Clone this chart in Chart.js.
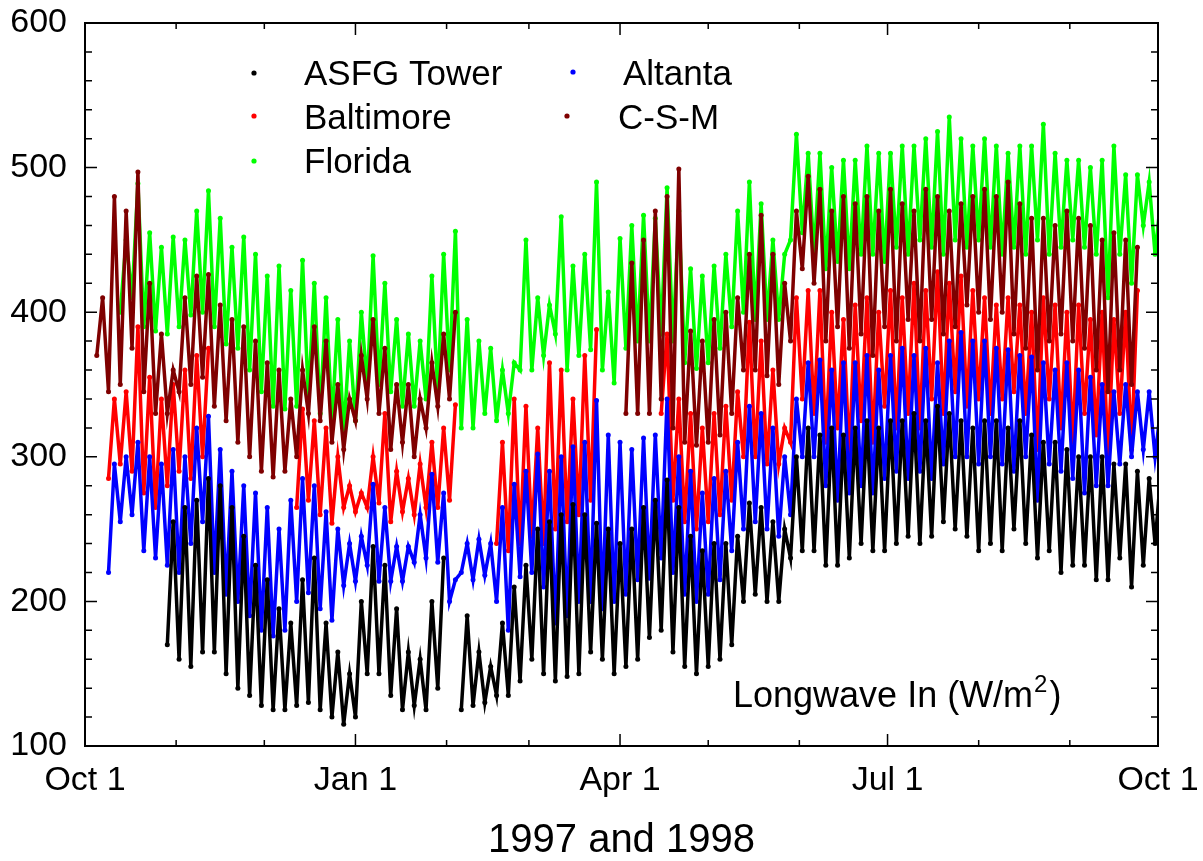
<!DOCTYPE html>
<html>
<head>
<meta charset="utf-8">
<script src="https://cdn.jsdelivr.net/npm/chart.js@4.4.0/dist/chart.umd.min.js"></script>
<style>
  html, body { margin: 0; padding: 0; background: #fff; }
  #wrap { width: 1203px; height: 861px; position: relative; }
</style>
</head>
<body>
<div id="wrap"><canvas id="lw" width="1203" height="861"></canvas></div>
<script>
// --- Data (days after Oct 1 1997, low / high reading of each 4-day window, W/m2) ---
const days = [0,4,8,12,16,20,24,28,32,36,40,44,48,52,56,60,64,68,72,76,80,84,88,92,96,100,
  104,108,112,116,120,124,128,132,136,140,144,148,152,156,160,164,168,172,176,180,184,188,192,196,
  200,204,208,212,216,220,224,228,232,236,240,244,248,252,256,260,264,268,272,276,280,284,288,292,
  296,300,304,308,312,316,320,324,328,332,336,340,344,348,352,356,360,364];

const asfgLow = [null,null,null,null,null,null,null,170,160,155,165,165,150,140,135,128,125,125,128,130,
  125,120,115,120,150,150,135,125,128,125,140,null,125,128,130,135,135,145,160,150,145,148,150,165,160,150,
  155,160,175,180,165,155,150,155,160,170,200,205,200,200,230,235,235,225,225,230,240,235,235,240,245,240,
  245,255,250,245,235,240,235,250,240,230,235,220,225,225,215,215,230,210,225,240];
const asfgHigh = [null,null,null,null,null,null,null,255,265,270,285,280,265,245,225,215,195,185,215,230,
  185,165,150,200,238,225,195,165,160,200,230,null,190,165,155,185,210,225,250,255,260,267,260,254,250,240,
  250,265,270,284,265,245,235,240,240,245,268,265,255,250,300,320,315,320,315,320,325,320,325,325,330,325,
  335,330,325,320,325,325,320,325,315,310,310,305,300,300,300,295,295,290,285,290];

const atlLow = [null,null,220,255,260,235,230,225,220,240,255,220,205,200,190,180,176,180,200,206,
  195,187,211,214,225,214,214,214,227,230,227,200,220,215,218,200,180,217,220,210,185,190,200,200,195,200,
  205,215,216,230,220,205,200,205,215,235,250,255,250,245,260,300,300,280,270,275,280,275,285,290,285,290,
  285,295,300,300,295,300,295,290,300,270,295,290,285,275,280,280,295,300,305,300];
const atlHigh = [null,null,295,300,310,300,295,305,300,320,328,305,290,280,275,265,250,270,285,280,
  262,250,240,245,281,265,238,238,260,288,275,215,240,243,240,265,281,290,302,290,300,307,310,339,315,310,
  305,313,315,340,300,290,275,285,290,310,335,330,320,300,340,365,367,360,365,365,370,360,370,375,370,375,
  365,380,386,380,380,375,374,370,369,365,360,365,360,355,350,345,350,345,345,335];

const baltLow = [null,null,285,295,290,275,265,280,290,285,300,null,null,null,null,null,null,null,265,270,
  260,254,265,262,265,268,255,262,260,265,265,270,null,null,null,240,235,240,245,240,250,255,260,270,null,null,
  null,null,null,330,270,255,250,255,260,270,300,300,295,295,310,340,330,310,320,300,325,310,335,320,330,320,
  340,330,345,335,340,330,340,345,330,305,340,320,310,330,315,300,330,305,null,null];
const baltHigh = [null,null,340,345,390,355,340,350,360,370,375,null,null,null,null,null,null,null,333,325,
  320,300,280,275,300,330,290,285,295,310,320,336,null,null,null,310,340,335,320,365,360,340,370,388,null,null,
  null,null,null,385,340,330,320,330,335,345,393,380,360,320,410,415,415,400,395,405,410,400,415,410,420,415,
  428,420,425,415,410,405,410,405,400,410,405,400,405,395,400,395,400,415,null,null];

const csmLow = [null,370,345,350,375,345,330,330,345,350,355,335,325,310,300,290,286,290,300,330,
  325,310,305,325,340,330,305,310,300,320,335,340,null,null,null,null,null,null,null,null,null,null,null,null,null,null,
  330,330,330,340,320,310,308,310,315,330,360,360,356,350,380,430,420,380,390,375,385,370,390,380,395,380,
  395,385,390,405,400,395,400,385,375,360,380,385,380,375,360,345,360,350,null,null];
const csmHigh = [null,410,480,470,497,420,385,360,410,425,426,405,395,390,380,365,360,340,360,390,
  380,350,340,370,395,375,350,350,340,365,385,400,null,null,null,null,null,null,null,null,null,null,null,null,null,null,
  434,450,470,480,499,387,380,395,400,410,440,467,440,420,470,494,485,470,480,475,480,470,485,475,470,485,
  480,470,475,480,485,480,490,475,465,465,460,470,465,460,450,455,450,445,null,null];

const flaLow = [null,null,null,400,410,390,387,385,390,398,400,390,378,375,360,345,335,333,335,340,
  330,325,317,325,350,350,345,335,335,340,345,360,320,320,330,325,330,360,360,370,385,360,370,374,360,351,
  375,380,380,385,380,365,361,365,375,390,400,395,395,395,450,455,440,430,435,430,440,440,435,445,440,450,
  445,440,450,445,450,445,440,445,440,450,440,445,450,445,440,410,440,420,460,440];
const flaHigh = [null,null,null,450,489,455,445,452,450,470,484,465,445,452,440,425,432,415,436,420,
  410,395,380,400,439,420,395,385,380,425,440,456,395,380,375,360,365,450,410,405,466,432,440,490,414,451,
  460,467,465,486,470,430,425,432,440,470,490,475,450,440,523,510,510,500,505,505,515,510,510,515,515,520,
  525,535,520,515,520,515,510,515,515,530,510,505,505,500,505,515,495,495,490,480];

const monthDays = [0, 31, 61, 92, 123, 151, 182, 212, 243, 273, 304, 335, 365];
const labelDays = [0, 92, 182, 273, 365];
const labelNames = ["Oct 1", "Jan 1", "Apr 1", "Jul 1", "Oct 1"];
const yTicks = [100, 200, 300, 400, 500, 600];

// low at the window start, high half a window later -> zigzag band like the hourly cloud
function band(lows, highs) {
  const pts = [];
  days.forEach((d, i) => {
    if (lows[i] == null) { pts.push({ x: d, y: null }); return; }
    pts.push({ x: d, y: lows[i] });
    pts.push({ x: d + 2, y: highs[i] });
  });
  return pts;
}

function series(label, color, lows, highs) {
  return {
    label: label,
    data: band(lows, highs),
    showLine: true,
    spanGaps: false,
    borderColor: color,
    backgroundColor: color,
    borderWidth: 3.5,
    pointRadius: 2.5,
    pointHoverRadius: 0,
    pointBorderWidth: 0
  };
}

// --- Frame, ticks, legend and label ---
const framePlugin = {
  id: "frame",
  afterDraw(chart) {
    const { ctx, chartArea: a, scales } = chart;
    const xs = scales.x, ys = scales.y;
    ctx.save();
    ctx.strokeStyle = "#000";
    ctx.lineWidth = 2;
    ctx.strokeRect(a.left, a.top, a.right - a.left, a.bottom - a.top);
    ctx.lineWidth = 1.5;
    ctx.beginPath();
    monthDays.forEach((d) => {
      const px = xs.getPixelForValue(d);
      const len = labelDays.includes(d) ? 12 : 6;
      ctx.moveTo(px, a.bottom); ctx.lineTo(px, a.bottom - len);
      ctx.moveTo(px, a.top); ctx.lineTo(px, a.top + len);
    });
    for (let v = 100; v <= 600; v += 20) {
      const py = ys.getPixelForValue(v);
      const len = v % 100 === 0 ? 12 : 7;
      ctx.moveTo(a.left, py); ctx.lineTo(a.left + len, py);
      ctx.moveTo(a.right, py); ctx.lineTo(a.right - len, py);
    }
    ctx.stroke();

    // legend
    const legend = [
      ["ASFG Tower", "#000000", 254, 73, 304, 85],
      ["Baltimore", "#ff0000", 254, 116, 304, 129],
      ["Florida", "#00ff00", 254, 161, 304, 173],
      ["Altanta", "#0000ff", 573, 72, 623, 85],
      ["C-S-M", "#7f0000", 567, 116, 618, 129]
    ];
    ctx.font = "35px 'Liberation Sans', Arial, sans-serif";
    ctx.textBaseline = "alphabetic";
    ctx.textAlign = "left";
    legend.forEach(([t, c, dx, dy, tx, ty]) => {
      ctx.fillStyle = c;
      ctx.beginPath();
      ctx.arc(dx, dy, 2.6, 0, Math.PI * 2);
      ctx.fill();
      ctx.fillStyle = "#000";
      ctx.fillText(t, tx, ty);
    });

    // quantity label
    ctx.fillStyle = "#000";
    ctx.font = "36px 'Liberation Sans', Arial, sans-serif";
    const main = "Longwave In (W/m";
    ctx.fillText(main, 733, 707);
    let w = ctx.measureText(main).width;
    ctx.font = "24px 'Liberation Sans', Arial, sans-serif";
    ctx.fillText("2", 733 + w + 1, 692);
    const w2 = ctx.measureText("2").width;
    ctx.font = "36px 'Liberation Sans', Arial, sans-serif";
    ctx.fillText(")", 733 + w + w2 + 3, 707);
    ctx.restore();
  }
};

const tickFont = { family: "'Liberation Sans', Arial, sans-serif", size: 34 };

new Chart(document.getElementById("lw"), {
  type: "scatter",
  data: {
    datasets: [
      series("ASFG Tower", "#000000", asfgLow, asfgHigh),
      series("Altanta", "#0000ff", atlLow, atlHigh),
      series("C-S-M", "#7f0000", csmLow, csmHigh),
      series("Baltimore", "#ff0000", baltLow, baltHigh),
      series("Florida", "#00ff00", flaLow, flaHigh)
    ]
  },
  options: {
    responsive: false,
    animation: false,
    events: [],
    layout: { padding: { left: 0, right: 45, top: 23, bottom: 0 } },
    plugins: { legend: { display: false }, tooltip: { enabled: false } },
    scales: {
      x: {
        type: "linear",
        min: 0,
        max: 365,
        afterBuildTicks: (s) => { s.ticks = labelDays.map((v) => ({ value: v })); },
        afterFit: (s) => { s.height = 115; s.paddingLeft = 0; s.paddingRight = 0; },
        grid: { display: false, drawTicks: false },
        border: { display: false },
        ticks: {
          autoSkip: false,
          maxRotation: 0,
          padding: 14,
          color: "#000",
          font: tickFont,
          callback: (v) => labelNames[labelDays.indexOf(v)]
        },
        title: {
          display: true,
          text: "1997 and 1998",
          color: "#000",
          padding: { top: 0, bottom: 0 },
          font: { family: "'Liberation Sans', Arial, sans-serif", size: 40, lineHeight: 1 }
        }
      },
      y: {
        min: 100,
        max: 600,
        afterBuildTicks: (s) => { s.ticks = yTicks.map((v) => ({ value: v })); },
        afterFit: (s) => { s.width = 85; s.paddingTop = 0; s.paddingBottom = 0; },
        grid: { display: false, drawTicks: false },
        border: { display: false },
        ticks: { padding: 18, color: "#000", font: tickFont }
      }
    }
  },
  plugins: [framePlugin]
});
</script>
</body>
</html>
